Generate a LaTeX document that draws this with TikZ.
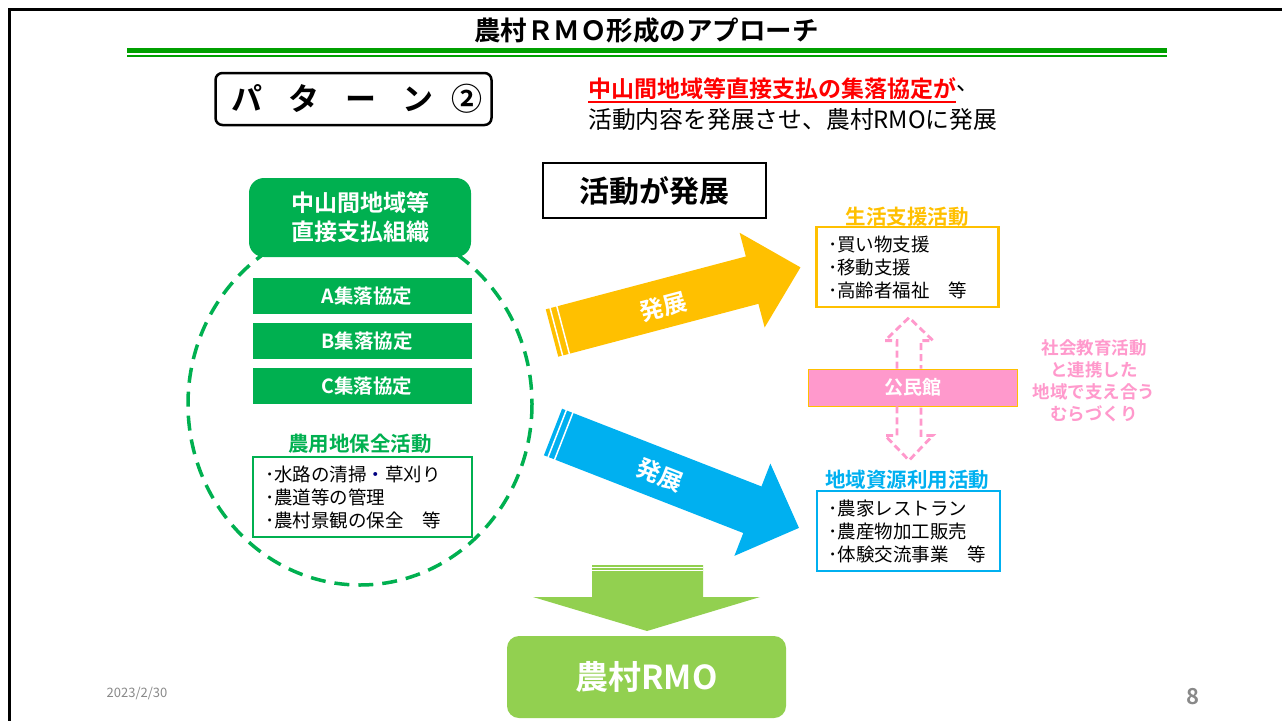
\documentclass[tikz,border=0pt]{standalone}
\usepackage{fontspec}
\setmainfont{Noto Sans CJK JP}[BoldFont={Noto Sans CJK JP Bold}]
\usetikzlibrary{calc}
\definecolor{cgreen}{HTML}{00B050}
\definecolor{lgreen}{HTML}{92D050}
\definecolor{corange}{HTML}{FFC000}
\definecolor{cblue}{HTML}{00B0F0}
\definecolor{cpink}{HTML}{FF99CC}
\definecolor{tgreen}{HTML}{00A000}
\definecolor{cgray}{HTML}{898989}
\definecolor{cnavy}{HTML}{000080}
\newcommand\fsz[2]{\fontsize{#1}{#2}\selectfont}
\begin{document}
\begin{tikzpicture}[x=1pt,y=-1pt,
  bar/.style={fill=cgreen, text=white, font=\bfseries\fsz{19.5}{22}, minimum width=219, minimum height=36, inner sep=0},
  listbox/.style={draw=#1, line width=2.2, fill=white, align=left, inner xsep=0, inner ysep=0, font=\fsz{18.5}{23}, minimum height=80},
  ttl/.style={text=#1, font=\bfseries\fsz{20.5}{24}, inner sep=0},
  pinkdash/.style={draw=cpink, line width=2.8, dash pattern=on 7pt off 4pt},
  plain/.style={inner sep=0}
]
\useasboundingbox (0,0) rectangle (1282,720);
\fill[white] (0,0) rectangle (1282,720);
\draw[line width=2.5] (9.5,730) -- (9.5,9.5) -- (1290,9.5);

% title
\node[plain] (title) at (646.5,30) {\bfseries\fsz{26.5}{30}農村ＲＭＯ形成のアプローチ};
\fill[tgreen] (127,47.5) rectangle (1167,52.7);
\fill[tgreen] (127,55) rectangle (1167,57);

% pattern box
\node[draw, line width=2.5, rounded corners=7, minimum width=276, minimum height=52, inner sep=0] (pat) at (353.5,99) {};
\node[plain] (pattxt) at (357,99) {\bfseries\fsz{31}{34}パ\hspace{26pt}タ\hspace{26pt}ー\hspace{26pt}ン\hspace{18pt}②};

% lead text
\node[plain, anchor=west] (lead1) at (588,89) {\bfseries\fsz{23}{26}\textcolor{red}{中山間地域等直接支払の集落協定が}};
\node[plain, anchor=west] (comma) at (lead1.east) {\fsz{23}{26}、};
\draw[red, line width=2] ($(lead1.west)+(0,13)$) -- ($(lead1.east)+(0,13)$);
\node[plain, anchor=west] (lead2) at (588,120) {\fsz{23.8}{26}活動内容を発展させ、農村RMOに発展};

% katsudo box
\node[draw, line width=1.5, minimum width=223, minimum height=55, inner sep=0, font=\bfseries\fsz{30}{34}] (katsu) at (654.5,190.5) {活動が発展};

% dashed ellipse
\draw[cgreen, line width=3.5, dash pattern=on 15pt off 9pt] (360,404) ellipse [x radius=172, y radius=181];

% organisation
\node[fill=cgreen, rounded corners=15, minimum width=222, minimum height=79, inner sep=0, text=white, align=center, font=\bfseries\fsz{23}{29}] (org) at (360,217.5) {中山間地域等\\直接支払組織};

\node[bar] (ba) at (362.5,296) {\hspace*{9pt}A集落協定};
\node[bar] (bb) at (362.5,341) {\hspace*{9pt}B集落協定};
\node[bar] (bc) at (362.5,386) {\hspace*{9pt}C集落協定};

\node[ttl=cgreen] (nt) at (360,444) {農用地保全活動};
\node[listbox=cgreen, minimum width=219, text width=195] (nl) at (362.5,497) {･水路の清掃\textcolor{cnavy}{・}草刈り\\･農道等の管理\\･農村景観の保全　等};

% orange arrow
\begin{scope}[shift={(552,333)}, rotate=14.8]
  \fill[corange] (0,-24.5) -- (207,-24.5) -- (207,-49) -- (257,0) -- (207,49) -- (207,24.5) -- (0,24.5) -- cycle;
  \draw[white, line width=1.5] (4.5,-26) -- (4.5,26);
  \draw[white, line width=1.5] (11.5,-26) -- (11.5,26);
  \node[plain, text=white, font=\bfseries\fsz{24}{26}, rotate=14.8] (oa) at (114,3) {発展};
\end{scope}

% blue arrow
\begin{scope}[shift={(553,432)}, rotate=-21.3]
  \fill[cblue] (0,-25) -- (214,-25) -- (214,-49.5) -- (264,0) -- (214,49.5) -- (214,25) -- (0,25) -- cycle;
  \draw[white, line width=1.5] (4.5,-26) -- (4.5,26);
  \draw[white, line width=1.5] (11.5,-26) -- (11.5,26);
  \node[plain, text=white, font=\bfseries\fsz{24}{26}, rotate=-21.3] (ba2) at (115,1) {発展};
\end{scope}

% right side
\node[ttl=corange] (ot) at (907,217) {生活支援活動};
\node[listbox=corange, minimum width=182, text width=159] (ol) at (907.5,267) {･買い物支援\\･移動支援\\･高齢者福祉　等};

\node[fill=cpink, draw=corange, line width=0.8, minimum width=209, minimum height=37, inner sep=0, text=white, font=\bfseries\fsz{19}{22}] (kmk) at (912.5,387.5) {公民館};

\draw[pinkdash] ($(kmk.north)+(-15.5,0)$) -- ++(0,-28) -- ++(-12,0) -- ($(kmk.north)+(-3.5,-51)$) -- ++(24,23) -- ++(-12,0) -- ($(kmk.north)+(8.5,0)$);
\draw[pinkdash] ($(kmk.south)+(-15.5,0)$) -- ++(0,29) -- ++(-12,0) -- ($(kmk.south)+(-3.5,54)$) -- ++(24,-25) -- ++(-12,0) -- ($(kmk.south)+(8.5,0)$);

\node[plain, text=cpink, align=center, font=\bfseries\fsz{17.5}{22}] (pk) at (1094,380.5) {社会教育活動\\と連携した\\地域で支え合う\\むらづくり};

\node[ttl=cblue] (bt) at (907,480) {地域資源利用活動};
\node[listbox=cblue, minimum width=183, text width=160] (bl) at (908.5,531) {･農家レストラン\\･農産物加工販売\\･体験交流事業　等};

% bottom arrow
\fill[lgreen] (592,565) -- (703,565) -- (703,597) -- (760,597) -- (647,631) -- (533,597) -- (592,597) -- cycle;
\draw[white, line width=0.8] (592,567.7) -- (703,567.7);
\draw[white, line width=0.8] (592,570.6) -- (703,570.6);

\node[fill=lgreen, rounded corners=12, minimum width=279, minimum height=82, inner sep=0, text=white, font=\bfseries\fsz{33}{36}] (rmo) at (646.5,677) {農村RMO};

\node[plain, text=cgray, font=\fsz{13}{15}] (date) at (137,693) {2023/2/30};
\node[plain, text=cgray, font=\bfseries\fsz{22}{24}] (pg) at (1193,697) {8};
\end{tikzpicture}
\end{document}
